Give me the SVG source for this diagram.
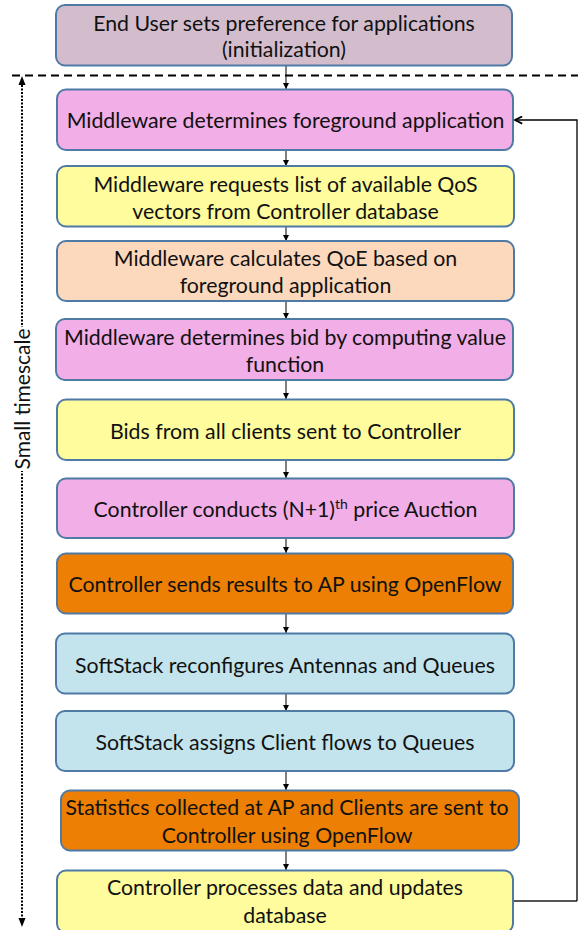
<svg xmlns="http://www.w3.org/2000/svg" width="581" height="930" viewBox="0 0 581 930">
<defs>
<style>
.box{stroke:#4f7aa6;stroke-width:2}
.t{font-family:"Lato","Open Sans",sans-serif;font-size:21.3px;fill:#111;text-anchor:middle}
.mauve{fill:#d3bdcd}
.pink{fill:#f2aee6}
.yellow{fill:#fefc9c}
.peach{fill:#fcd8bc}
.orange{fill:#ec7f04}
.blue{fill:#c3e4ec}
.arr{stroke:#000;stroke-width:1;fill:none}
</style>
<marker id="ah" viewBox="0 0 10 10" refX="10" refY="5" markerWidth="6" markerHeight="6" markerUnits="userSpaceOnUse" orient="auto">
<path d="M0,0 L10,5 L0,10 Z" fill="#000"/>
</marker>
<marker id="open" viewBox="0 0 10 10" refX="9" refY="5" markerWidth="9" markerHeight="9" markerUnits="userSpaceOnUse" orient="auto">
<path d="M1,1 L9,5 L1,9" fill="none" stroke="#000" stroke-width="2"/>
</marker>
</defs>
<rect width="581" height="930" fill="#fff"/>

<g id="separator">
<line x1="12" y1="75.5" x2="578" y2="75.5" stroke="#000" stroke-width="2" stroke-dasharray="8 5"/>
</g>

<g id="connectors">
<line class="arr" x1="286" y1="66" x2="286" y2="89" marker-end="url(#ah)"/>
<line class="arr" x1="286" y1="150" x2="286" y2="166" marker-end="url(#ah)"/>
<line class="arr" x1="286" y1="227" x2="286" y2="241" marker-end="url(#ah)"/>
<line class="arr" x1="286" y1="301" x2="286" y2="319" marker-end="url(#ah)"/>
<line class="arr" x1="286" y1="380" x2="286" y2="399" marker-end="url(#ah)"/>
<line class="arr" x1="286" y1="460" x2="286" y2="478" marker-end="url(#ah)"/>
<line class="arr" x1="286" y1="538" x2="286" y2="553" marker-end="url(#ah)"/>
<line class="arr" x1="286" y1="613" x2="286" y2="633" marker-end="url(#ah)"/>
<line class="arr" x1="286" y1="693" x2="286" y2="711" marker-end="url(#ah)"/>
<line class="arr" x1="286" y1="771" x2="286" y2="790" marker-end="url(#ah)"/>
<line class="arr" x1="286" y1="851" x2="286" y2="870" marker-end="url(#ah)"/>
<path d="M513,901 L577,901" stroke="#555" stroke-width="2" fill="none"/>
<path d="M577,901 L577,120 L515,120" stroke="#000" stroke-width="1.3" fill="none" marker-end="url(#open)"/>
<line x1="22" y1="85" x2="22" y2="918" stroke="#000" stroke-width="2" stroke-dasharray="2 1.5"/>
<path d="M22,76 L18.5,85 L25.5,85 Z" fill="#000"/>
<path d="M22,927 L18.5,918 L25.5,918 Z" fill="#000"/>
</g>

<g id="timescale-label">
<rect x="11" y="327" width="22" height="144" fill="#fff"/>
<text class="t" transform="translate(29.5,399) rotate(-90)" style="font-size:21px">Small timescale</text>
</g>

<g id="n1"><rect class="box mauve" x="56" y="5" width="456" height="60.5" rx="9"/>
<text class="t" x="284" y="30.5">End User sets preference for applications</text>
<text class="t" x="284" y="56.5">(initialization)</text></g>

<g id="n2"><rect class="box pink" x="57" y="89.5" width="456" height="60.5" rx="9"/>
<text class="t" x="285.5" y="127.5">Middleware determines foreground application</text></g>

<g id="n3"><rect class="box yellow" x="57" y="166" width="457" height="60.5" rx="9"/>
<text class="t" x="285.5" y="192.3">Middleware requests list of available QoS</text>
<text class="t" x="285.5" y="219.3">vectors from Controller database</text></g>

<g id="n4"><rect class="box peach" x="57" y="241" width="457" height="60" rx="9"/>
<text class="t" x="285.5" y="265.7">Middleware calculates QoE based on</text>
<text class="t" x="285.5" y="292.7">foreground application</text></g>

<g id="n5"><rect class="box pink" x="56" y="319" width="457" height="61" rx="9"/>
<text class="t" x="285" y="345">Middleware determines bid by computing value</text>
<text class="t" x="285" y="371.7">function</text></g>

<g id="n6"><rect class="box yellow" x="57" y="399.5" width="457" height="60.5" rx="9"/>
<text class="t" x="285.5" y="439">Bids from all clients sent to Controller</text></g>

<g id="n7"><rect class="box pink" x="57" y="478.5" width="457" height="59.5" rx="9"/>
<text class="t" x="285.5" y="516.7">Controller conducts (N+1)<tspan style="font-size:14px" dy="-8">th</tspan><tspan dy="8"> price Auction</tspan></text></g>

<g id="n8"><rect class="box orange" x="57" y="553.5" width="456" height="60" rx="9"/>
<text class="t" x="285" y="592.3">Controller sends results to AP using OpenFlow</text></g>

<g id="n9"><rect class="box blue" x="56" y="633.5" width="458" height="60" rx="9"/>
<text class="t" x="285" y="672.7">SoftStack reconfigures Antennas and Queues</text></g>

<g id="n10"><rect class="box blue" x="56" y="711" width="458" height="60" rx="9"/>
<text class="t" x="285" y="750">SoftStack assigns Client flows to Queues</text></g>

<g id="n11"><rect class="box orange" x="61" y="790.5" width="458" height="60" rx="9"/>
<text class="t" x="287" y="815">Statistics collected at AP and Clients are sent to</text>
<text class="t" x="287" y="843.3">Controller using OpenFlow</text></g>

<g id="n12"><rect class="box yellow" x="57" y="870.5" width="456" height="62" rx="9"/>
<text class="t" x="285" y="895">Controller processes data and updates</text>
<text class="t" x="285" y="923">database</text></g>
</svg>
